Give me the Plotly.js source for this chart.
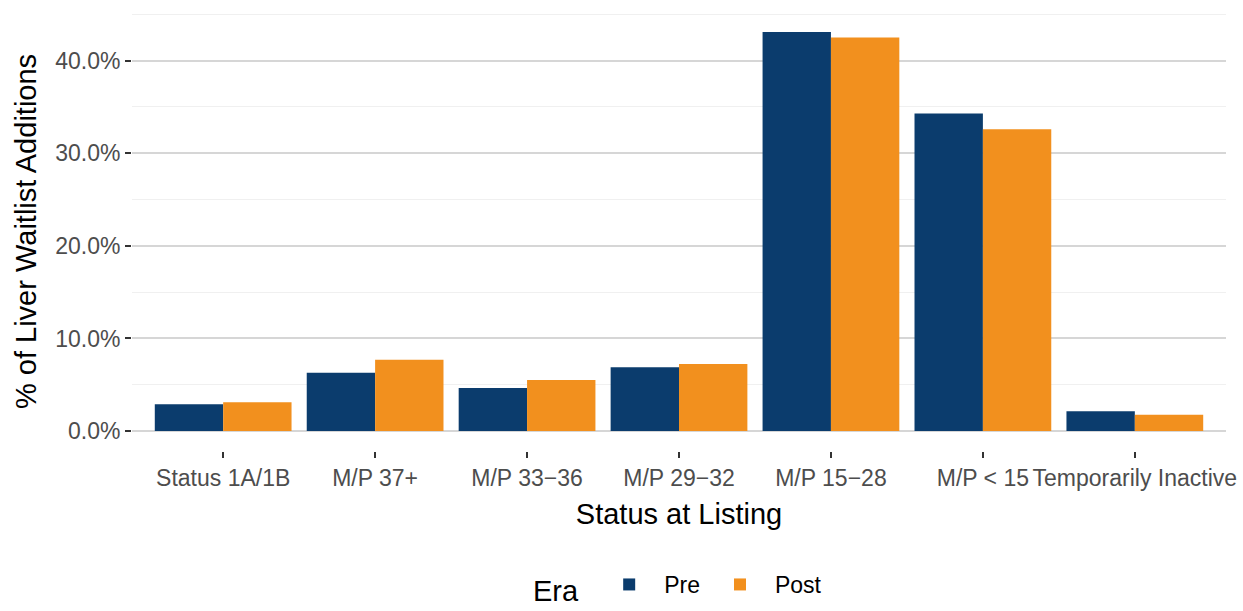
<!DOCTYPE html>
<html>
<head>
<meta charset="utf-8">
<script src="https://cdn.plot.ly/plotly-3.0.1.min.js"></script>
<style>html,body{margin:0;padding:0;background:#fff;}#chart{width:1243px;height:611px;}</style>
</head>
<body>
<div id="chart"></div>
<script>
const categories = ["Status 1A/1B", "M/P 37+", "M/P 33\u221236", "M/P 29\u221232", "M/P 15\u221228", "M/P < 15", "Temporarily Inactive"];
const preValues = [2.9, 6.3, 4.65, 6.9, 43.1, 34.3, 2.15];
const postValues = [3.1, 7.7, 5.5, 7.25, 42.5, 32.6, 1.75];
const seriesNames = ["Pre", "Post"];
const yTickVals = [0, 10, 20, 30, 40];
const yTickText = ["0.0%", "10.0%", "20.0%", "30.0%", "40.0%"];

const FONT = "Liberation Sans, Arial, Helvetica, sans-serif";

const traces = [
  {type: "bar", name: seriesNames[0], x: categories, y: preValues, marker: {color: "#0B3C6D"}, hoverinfo: "x+y+name"},
  {type: "bar", name: seriesNames[1], x: categories, y: postValues, marker: {color: "#F2901E"}, hoverinfo: "x+y+name"}
];

const layout = {
  width: 1243, height: 611,
  margin: {l: 132, r: 17, t: 12, b: 160},
  paper_bgcolor: "#ffffff", plot_bgcolor: "#ffffff",
  font: {family: FONT, color: "#000000"},
  barmode: "group", bargap: 0.1, bargroupgap: 0,
  showlegend: true,
  xaxis: {
    type: "category",
    range: [-0.6, 6.6],
    showgrid: false, zeroline: false, showline: false,
    ticks: "outside", ticklen: 6, tickwidth: 2, tickcolor: "#333333",
    tickangle: 0,
    tickfont: {family: FONT, size: 23, color: "#4D4D4D"},
    title: {text: "Status at Listing", font: {family: FONT, size: 29, color: "#000000"}, standoff: 14},
    automargin: false
  },
  yaxis: {
    range: [-2.155, 45.26],
    tickvals: yTickVals, ticktext: yTickText,
    showgrid: true, gridcolor: "#D6D6D6", gridwidth: 2,
    zeroline: false, showline: false,
    ticks: "outside", ticklen: 6, tickwidth: 2, tickcolor: "#333333",
    tickfont: {family: FONT, size: 23, color: "#4D4D4D"},
    minor: {tickvals: [5, 15, 25, 35, 45], showgrid: true, gridcolor: "#F0F0F0", gridwidth: 1, ticks: ""},
    title: {text: "% of Liver Waitlist Additions", font: {family: FONT, size: 29, color: "#000000"}, standoff: 10},
    automargin: false
  },
  legend: {
    orientation: "h",
    x: 0.5, xanchor: "center", xref: "paper",
    y: -0.008, yanchor: "bottom", yref: "container",
    font: {family: FONT, size: 23, color: "#000000"},
    title: {text: "Era ", side: "left", font: {family: FONT, size: 29, color: "#000000"}},
    itemwidth: 60,
    bgcolor: "rgba(0,0,0,0)"
  }
};

Plotly.newPlot("chart", traces, layout, {displayModeBar: false, staticPlot: true});
</script>
</body>
</html>
